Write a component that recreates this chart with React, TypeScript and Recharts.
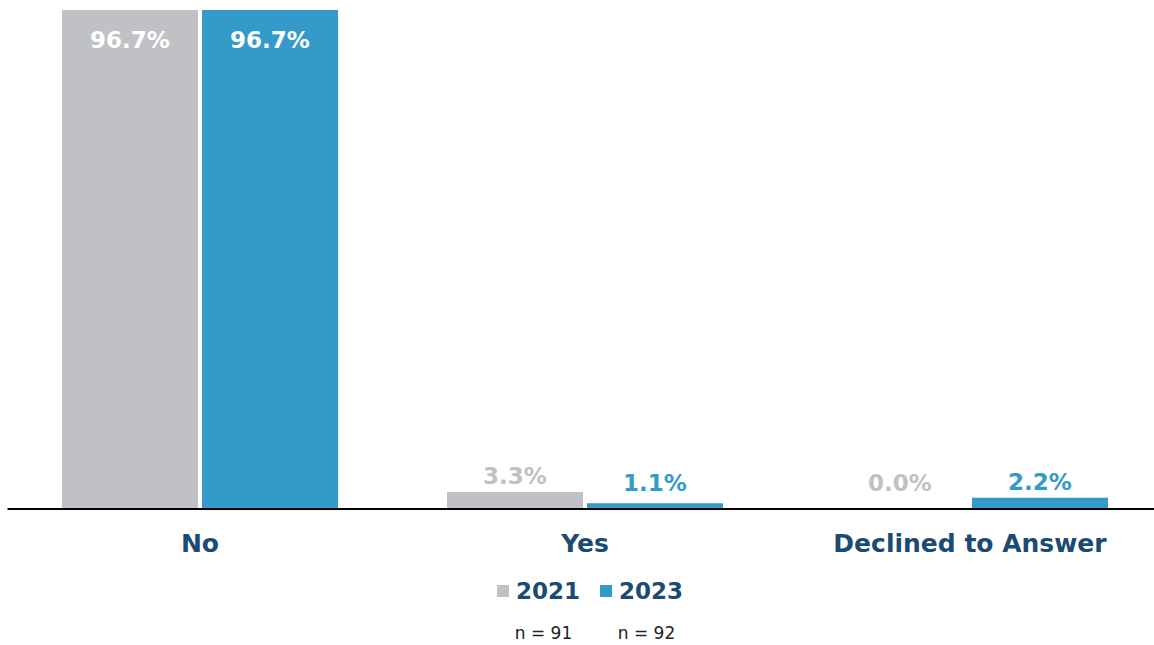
import { BarChart, Bar, XAxis, YAxis, LabelList, Legend } from 'recharts'

const categories = ['No', 'Yes', 'Declined to Answer']
const values2021 = [96.7, 3.3, 0.0]
const values2023 = [96.7, 1.1, 2.2]
const seriesNames = ['2021', '2023']
const sampleSizes = ['n = 91', 'n = 92']

const colors = ['#BFC1C5', '#349AC9']
const navy = '#1B4A72'
const font = '"DejaVu Sans", sans-serif'

const data = categories.map((name, i) => ({
  name,
  y2021: values2021[i],
  y2023: values2023[i],
}))

// keep zero bars "present" so their labels still render
const minSize = (value: any) => (value === 0 ? 0.01 : 0)

const makeLabel = (color: string) => (props: any) => {
  const { x, y, width, height, value } = props
  const cx = x + width / 2
  const big = value > 50
  const cy = big ? y + 30 : Math.min(y - 16, y + height - 26)
  return (
    <text
      x={cx}
      y={cy}
      textAnchor="middle"
      dominantBaseline="central"
      fill={big ? '#fff' : color}
      fontFamily={font}
      fontWeight="bold"
      fontSize={23}
    >
      {Number(value).toFixed(1)}%
    </text>
  )
}

const CategoryTick = (props: any) => {
  const { x, y, payload } = props
  return (
    <text
      x={x}
      y={y + 26}
      textAnchor="middle"
      dominantBaseline="central"
      fill={navy}
      fontFamily={font}
      fontWeight="bold"
      fontSize={25}
    >
      {payload.value}
    </text>
  )
}

const LegendContent = () => (
  <div style={{ fontFamily: font, display: 'flex', justifyContent: 'center', gap: 20, paddingTop: 14, paddingLeft: 26 }}>
    {seriesNames.map((s, i) => (
      <div key={s} style={{ display: 'flex', flexDirection: 'column', alignItems: 'center' }}>
        <div style={{ display: 'flex', alignItems: 'center', height: 36 }}>
          <span style={{ width: 12, height: 12, background: colors[i], display: 'inline-block', marginRight: 7 }} />
          <span style={{ color: navy, fontWeight: 'bold', fontSize: 23 }}>{s}</span>
        </div>
        <div style={{ marginTop: 14, paddingLeft: 10, fontSize: 17, color: '#222' }}>{sampleSizes[i]}</div>
      </div>
    ))}
  </div>
)

export default function App() {
  return (
    <div style={{ position: 'absolute', left: 0, top: 0, width: 1154, height: 645, overflow: 'hidden', background: '#fff' }}>
      <BarChart
        width={1170}
        height={645}
        data={data}
        margin={{ top: 10, right: 7.5, left: 7.5, bottom: 0 }}
        barGap={4}
        barCategoryGap={54.5}
      >
        <XAxis
          dataKey="name"
          height={50}
          axisLine={{ stroke: '#000', strokeWidth: 2 }}
          tickLine={false}
          tick={<CategoryTick />}
          interval={0}
        />
        <YAxis hide domain={[0, 96.7]} />
        <Legend
          verticalAlign="bottom"
          height={86}
          wrapperStyle={{ left: 0, width: 1154 }}
          content={<LegendContent />}
        />
        <Bar dataKey="y2021" fill={colors[0]} minPointSize={minSize} isAnimationActive={false}>
          <LabelList dataKey="y2021" content={makeLabel(colors[0])} />
        </Bar>
        <Bar dataKey="y2023" fill={colors[1]} minPointSize={minSize} isAnimationActive={false}>
          <LabelList dataKey="y2023" content={makeLabel(colors[1])} />
        </Bar>
      </BarChart>
    </div>
  )
}
